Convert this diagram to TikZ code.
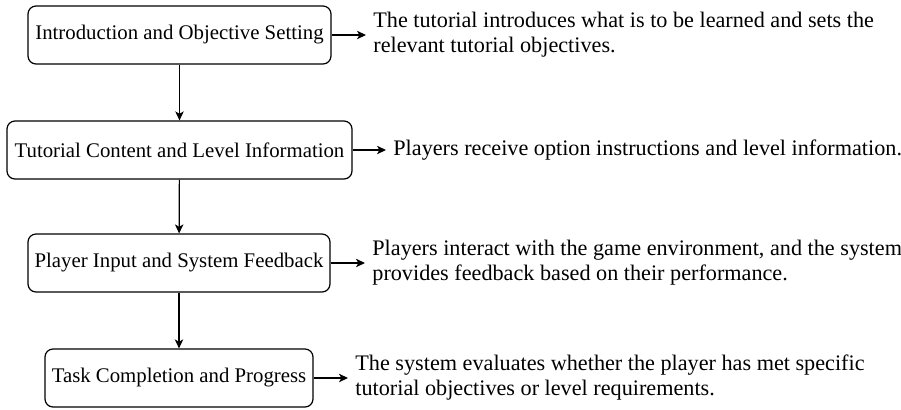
\documentclass[tikz,border=0pt]{standalone}
\usepackage{fontspec}
\setmainfont{Liberation Serif}
\usetikzlibrary{arrows.meta}
\begin{document}
\begin{tikzpicture}[x=0.5pt,y=-0.5pt,
  stagebox/.style={draw, rounded corners=4pt, line width=0.6pt, minimum height=29pt, inner sep=0pt, font=\fontsize{10.4}{12}\selectfont},
  desc/.style={anchor=west, align=left, inner sep=0pt, font=\fontsize{11.1}{12.5}\selectfont},
  flow/.style={-{Stealth[length=4.5pt,width=4.2pt,inset=1.2pt]}, line width=0.6pt}]
\useasboundingbox (0,0) rectangle (901,409);
\node[stagebox, minimum width=151.5pt] (b1) at (179.5,35) {Introduction and Objective Setting};
\node[stagebox, minimum width=172.5pt] (b2) at (179.5,150) {Tutorial Content and Level Information};
\node[stagebox, minimum width=151pt] (b3) at (179,263) {Player Input and System Feedback};
\node[stagebox, minimum width=134pt] (b4) at (179,378) {Task Completion and Progress};
\node[desc] (d1) at (373,35) {The tutorial introduces what is to be learned and sets the\\relevant tutorial objectives.};
\node[desc] (d2) at (393,150) {Players receive option instructions and level information.};
\node[desc] (d3) at (372,263) {Players interact with the game environment, and the system\\provides feedback based on their performance.};
\node[desc] (d4) at (355,378) {The system evaluates whether the player has met specific\\tutorial objectives or level requirements.};
\draw[flow] (b1) -- (b2);
\draw[flow] (b2) -- (b3);
\draw[flow] (b3) -- (b4);
\draw[flow] (b1.east) -- ([xshift=-3.5pt]d1.west);
\draw[flow] (b2.east) -- ([xshift=-3.5pt]d2.west);
\draw[flow] (b3.east) -- ([xshift=-3.5pt]d3.west);
\draw[flow] (b4.east) -- ([xshift=-3.5pt]d4.west);
\end{tikzpicture}
\end{document}
